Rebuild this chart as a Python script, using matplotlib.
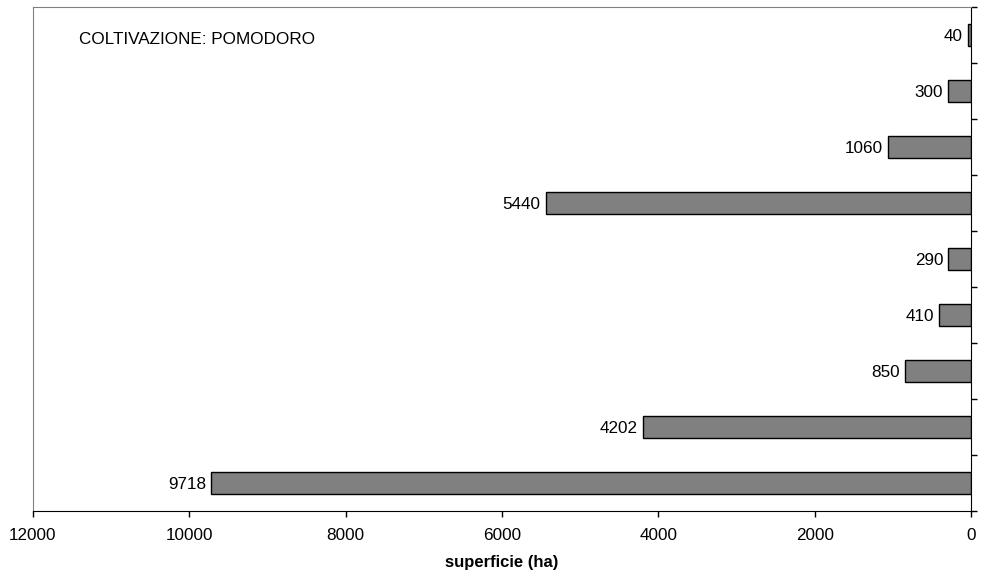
import numpy as np
import matplotlib
matplotlib.use("Agg")
import matplotlib.pyplot as plt

plt.rcParams['font.family'] = ['Liberation Sans', 'DejaVu Sans']

# Data (top to bottom)
values = [40, 300, 1060, 5440, 290, 410, 850, 4202, 9718]
x_ticks = [12000, 10000, 8000, 6000, 4000, 2000, 0]
title_text = "COLTIVAZIONE: POMODORO"
x_label = "superficie (ha)"

fig = plt.figure(figsize=(9.82, 5.77), dpi=100)
ax = fig.add_axes([0.0336, 0.1144, 0.9552, 0.8735])

pos = np.arange(len(values))
ax.barh(pos, values, height=0.41, color='#808080', edgecolor='black', linewidth=1)

for p, v in zip(pos, values):
    ax.text(v + 65, p + 0.02, str(v), ha='right', va='center', fontsize=12.3)

ax.set_xlim(12000, 0)
ax.set_ylim(len(values) - 0.5, -0.5)
ax.set_xticks(x_ticks)
ax.set_xticklabels([str(t) for t in x_ticks], fontsize=12.3)
ax.set_xlabel(x_label, fontsize=12, fontweight='bold', labelpad=9)

ax.yaxis.tick_right()
ax.set_yticks(np.arange(-0.5, len(values), 1.0))
ax.set_yticklabels([])
ax.tick_params(axis='y', direction='out', length=4, width=1)
ax.tick_params(axis='x', direction='out', length=4, width=1, pad=8)

ax.spines['left'].set_color('#808080')
ax.spines['top'].set_color('#808080')
ax.spines['right'].set_color('black')
ax.spines['bottom'].set_color('black')

ax.text(0.049, 0.935, title_text, transform=ax.transAxes, fontsize=12.3,
        ha='left', va='center')

fig.savefig("out.png", dpi=100)
